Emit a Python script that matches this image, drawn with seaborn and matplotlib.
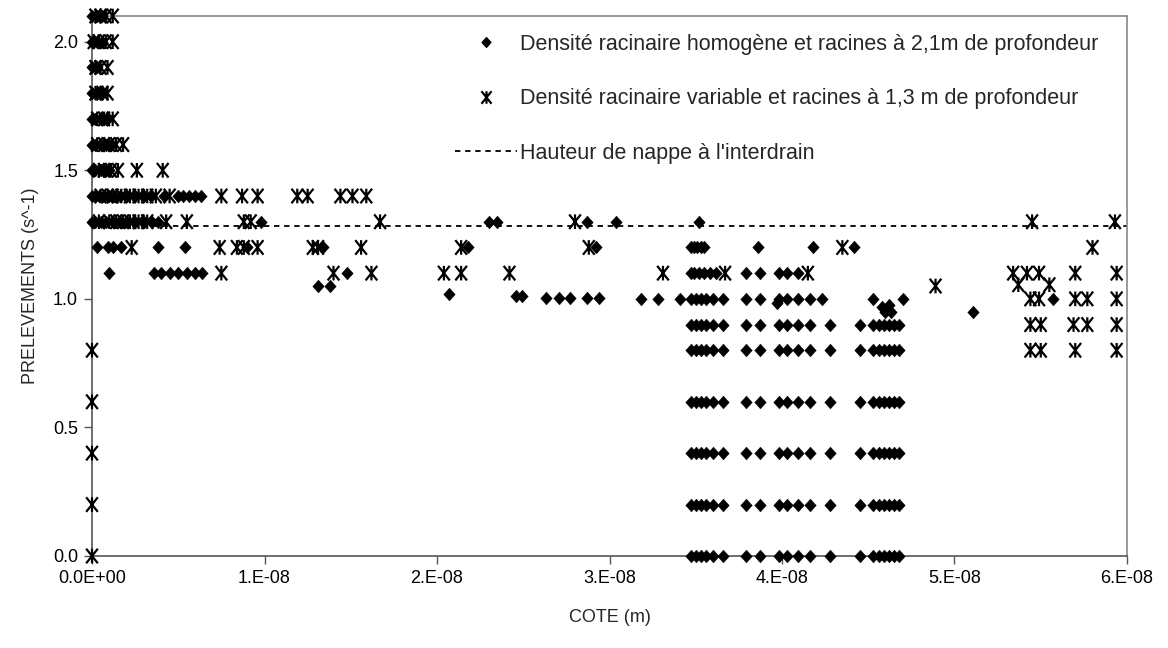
import numpy as np
import pandas as pd
import matplotlib
matplotlib.use("Agg")
import matplotlib.pyplot as plt
import seaborn as sns
from matplotlib.path import Path
from matplotlib.lines import Line2D
from matplotlib.ticker import FixedLocator, FuncFormatter

sns.set_theme(style="white")
plt.rcParams["font.family"] = ["Liberation Sans", "DejaVu Sans"]

# ---------------- data (x in units of 1e-8 m) ----------------
X_UNIT = 1e-8

# Series 1: Densité racinaire homogène (diamonds), rows at constant y
homog_levels = [2.1, 2.0, 1.9, 1.8, 1.7, 1.6, 1.5, 1.4, 1.3, 1.2, 1.1, 1.05, 1.0]
homog_x_by_level = [
    [0, 0.03, 0.06],
    [0, 0.03, 0.06],
    [0, 0.03],
    [0, 0.03, 0.05],
    [0, 0.02, 0.05, 0.08],
    [0, 0.02, 0.05, 0.08, 0.11],
    [0, 0.02, 0.05, 0.08, 0.10],
    [0, 0.02, 0.04, 0.07, 0.10, 0.13, 0.16, 0.20, 0.25, 0.30, 0.34, 0.42, 0.50, 0.53, 0.56, 0.60, 0.63],
    [0, 0.02, 0.05, 0.08, 0.12, 0.16, 0.20, 0.25, 0.30, 0.35, 0.38, 0.98, 2.30, 2.35, 2.87, 3.04, 3.52],
    [0.03, 0.09, 0.12, 0.17, 0.38, 0.54, 0.90, 1.34, 2.18, 2.92, 3.47, 3.49, 3.51, 3.53, 3.55, 3.86, 4.18, 4.42],
    [0.10, 0.36, 0.40, 0.45, 0.50, 0.55, 0.60, 0.64, 1.48, 3.47, 3.49, 3.52, 3.55, 3.58, 3.62, 3.79, 3.87, 3.98, 4.03, 4.09],
    [1.31, 1.38],
    [3.18, 3.28, 3.41, 3.47, 3.50, 3.53, 3.56, 3.60, 3.66, 3.79, 3.87, 3.98, 4.03, 4.09, 4.16, 4.23, 4.53, 4.70, 5.57],
]
# scattered diamonds slightly off the rows
homog_extra_x = [2.07, 2.46, 2.49, 2.63, 2.71, 2.77, 2.87, 2.94, 3.97, 4.58, 4.62, 4.60, 4.63, 5.11]
homog_extra_y = [1.02, 1.01, 1.01, 1.005, 1.005, 1.005, 1.005, 1.005, 0.985, 0.97, 0.975, 0.95, 0.95, 0.947]
# lower block repeated at several levels
homog_grid_levels = [0.9, 0.8, 0.6, 0.4, 0.2, 0.0]
homog_grid_x = [3.47, 3.50, 3.53, 3.56, 3.60, 3.66, 3.79, 3.87, 3.98, 4.03, 4.09, 4.16,
                4.28, 4.45, 4.53, 4.56, 4.59, 4.62, 4.65, 4.68]

# Series 2: Densité racinaire variable (asterisks)
var_levels = [2.1, 2.0, 1.9, 1.8, 1.7, 1.6, 1.5, 1.4, 1.3, 1.2, 1.1, 1.0, 0.9, 0.8, 0.6, 0.4, 0.2, 0.0]
var_x_by_level = [
    [0.02, 0.05, 0.08, 0.12],
    [0.01, 0.04, 0.08, 0.12],
    [0.02, 0.05, 0.09],
    [0.02, 0.06, 0.09],
    [0.03, 0.07, 0.12],
    [0.03, 0.07, 0.10, 0.14, 0.18],
    [0.04, 0.07, 0.11, 0.15, 0.26, 0.41],
    [0.05, 0.09, 0.12, 0.17, 0.22, 0.27, 0.32, 0.37, 0.45, 0.75, 0.87, 0.96, 1.19, 1.25, 1.44, 1.51, 1.59],
    [0.04, 0.10, 0.14, 0.18, 0.22, 0.27, 0.32, 0.43, 0.55, 0.88, 0.92, 1.67, 2.80, 5.45, 5.93],
    [0.23, 0.74, 0.84, 0.88, 0.96, 1.28, 1.31, 1.56, 2.14, 2.88, 4.35, 5.80],
    [0.75, 1.40, 1.62, 2.04, 2.14, 2.42, 3.31, 3.67, 4.15, 5.34, 5.42, 5.49, 5.70, 5.94],
    [5.44, 5.49, 5.70, 5.77, 5.94],
    [5.44, 5.50, 5.69, 5.77, 5.94],
    [0, 5.44, 5.50, 5.70, 5.94],
    [0],
    [0],
    [0],
    [0],
]
var_extra_x = [4.89, 5.37, 5.55]
var_extra_y = [1.05, 1.055, 1.055]

# Series 3: Hauteur de nappe à l'interdrain
nappe_x = [0.0, 6.0]
nappe_y = [1.285, 1.285]

labels = [
    "Densité racinaire homogène et racines à 2,1m de profondeur",
    "Densité racinaire variable et racines à 1,3 m de profondeur",
    "Hauteur de nappe à l'interdrain",
]
x_ticks = [0, 1, 2, 3, 4, 5, 6]
x_tick_labels = ["0.0E+00", "1.E-08", "2.E-08", "3.E-08", "4.E-08", "5.E-08", "6.E-08"]
y_ticks = [0.0, 0.5, 1.0, 1.5, 2.0]

# ---------------- build frames ----------------
hx, hy = [], []
for lvl, xs in zip(homog_levels, homog_x_by_level):
    hx += xs
    hy += [lvl] * len(xs)
for lvl in homog_grid_levels:
    hx += homog_grid_x
    hy += [lvl] * len(homog_grid_x)
hx += homog_extra_x
hy += homog_extra_y
df_h = pd.DataFrame({"x": np.array(hx) * X_UNIT, "y": hy})

vx, vy = [], []
for lvl, xs in zip(var_levels, var_x_by_level):
    vx += xs
    vy += [lvl] * len(xs)
vx += var_extra_x
vy += var_extra_y
df_v = pd.DataFrame({"x": np.array(vx) * X_UNIT, "y": vy})

df_n = pd.DataFrame({"x": np.array(nappe_x) * X_UNIT, "y": nappe_y})

# markers
diamond = Path([(0, 1), (0.9, 0), (0, -1), (-0.9, 0), (0, 1)],
               [Path.MOVETO, Path.LINETO, Path.LINETO, Path.LINETO, Path.CLOSEPOLY])
aster = Path([(0, -1), (0, 1), (-0.8, -1), (0.8, 1), (-0.8, 1), (0.8, -1)],
             [Path.MOVETO, Path.LINETO, Path.MOVETO, Path.LINETO, Path.MOVETO, Path.LINETO])

# ---------------- figure ----------------
W, H = 1168, 648
fig = plt.figure(figsize=(W / 100, H / 100), dpi=100)
ax = fig.add_axes([92 / W, 1 - 556 / H, (1127 - 92) / W, (556 - 16) / H])

sns.lineplot(data=df_n, x="x", y="y", ax=ax, color="black", linewidth=1.3,
             dashes=False, linestyle=(0, (3, 2.6)), zorder=2)
sns.scatterplot(data=df_h, x="x", y="y", ax=ax, marker=diamond, s=85,
                color="black", edgecolor="black", linewidth=0.3, clip_on=False, zorder=3)
sns.scatterplot(data=df_v, x="x", y="y", ax=ax, marker=aster, s=110,
                facecolor="none", edgecolor="black", linewidth=1.6, clip_on=False, zorder=4)

ax.set_xlim(0, 6 * X_UNIT)
ax.set_ylim(0, 2.1)
ax.xaxis.set_major_locator(FixedLocator([t * X_UNIT for t in x_ticks]))
ax.set_xticklabels(x_tick_labels)
ax.yaxis.set_major_locator(FixedLocator(y_ticks))
ax.yaxis.set_major_formatter(FuncFormatter(lambda v, p: f"{v:.1f}"))
ax.tick_params(axis="both", which="major", direction="out", length=6, width=1,
               color="#555555", labelsize=13, labelcolor="black", pad=4,
               bottom=True, left=True)
for side in ["left", "bottom"]:
    ax.spines[side].set_color("#555555")
    ax.spines[side].set_linewidth(1.2)
for side in ["top", "right"]:
    ax.spines[side].set_color("#888888")
    ax.spines[side].set_linewidth(1.2)

ax.set_xlabel("COTE (m)", fontsize=13, labelpad=16)
ax.set_ylabel("PRELEVEMENTS (s^-1)", fontsize=13, labelpad=10)

handles = [
    Line2D([], [], linestyle="none", marker=diamond, markersize=7, color="black"),
    Line2D([], [], linestyle="none", marker=aster, markersize=9, markerfacecolor="none",
           markeredgecolor="black", markeredgewidth=1.6),
    Line2D([], [], color="black", linewidth=1.3, linestyle=(0, (3, 2.6))),
]
ax.legend(handles, labels, loc="upper left", bbox_to_anchor=(455 / W, 1 - 34 / H),
          bbox_transform=fig.transFigure, frameon=False, fontsize=15.5,
          handlelength=2.9, handletextpad=0.1, labelspacing=1.55, borderpad=0,
          borderaxespad=0)

fig.savefig("out.png", dpi=100)
